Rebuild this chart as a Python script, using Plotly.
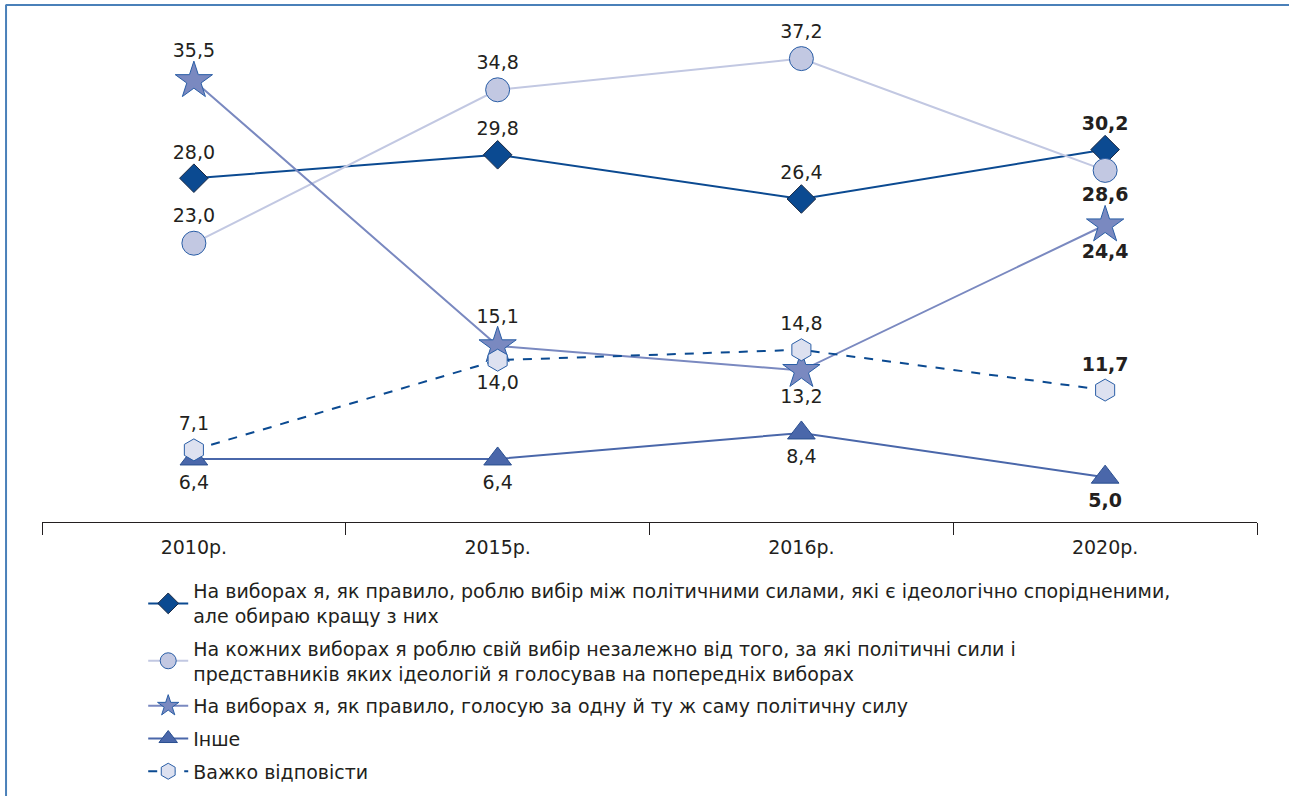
import plotly.graph_objects as go

# categories and values
years = ["2010р.", "2015р.", "2016р.", "2020р."]

ideological = [28.0, 29.8, 26.4, 30.2]
independent = [23.0, 34.8, 37.2, 28.6]
same_party = [35.5, 15.1, 13.2, 24.4]
other = [6.4, 6.4, 8.4, 5.0]
hard_to_say = [7.1, 14.0, 14.8, 11.7]

names = [
    "На виборах я, як правило, роблю вибір між політичними силами, які є ідеологічно спорідненими,<br>але обираю кращу з них",
    "На кожних виборах я роблю свій вибір незалежно від того, за які політичні сили і<br>представників яких ідеологій я голосував на попередніх виборах",
    "На виборах я, як правило, голосую за одну й ту ж саму політичну силу",
    "Інше",
    "Важко відповісти",
]

# label position per point
pos_ideological = ["top center", "top center", "top center", "top center"]
pos_independent = ["top center", "top center", "top center", "bottom center"]
pos_same_party = ["top center", "top center", "bottom center", "bottom center"]
pos_other = ["bottom center", "bottom center", "bottom center", "bottom center"]
pos_hard = ["top center", "bottom center", "top center", "top center"]

FONT = "DejaVu Sans, Arial, sans-serif"


def labels(values):
    out = []
    for i, v in enumerate(values):
        s = "{:.1f}".format(v).replace(".", ",")
        if i == len(values) - 1:
            s = "<b>" + s + "</b>"
        out.append(s)
    return out


def add_series(fig, values, name, positions, line_color, line_dash, symbol, size, fill, border):
    fig.add_trace(
        go.Scatter(
            x=years,
            y=values,
            name=name,
            mode="lines+markers+text",
            text=labels(values),
            textposition=positions,
            textfont=dict(size=19, color="#231f20", family=FONT),
            line=dict(color=line_color, width=2, dash=line_dash),
            marker=dict(symbol=symbol, size=size, color=fill, line=dict(color=border, width=1)),
            legendgroup=name,
            cliponaxis=False,
        )
    )


fig = go.Figure()
add_series(fig, ideological, names[0], pos_ideological, "#0b4a91", "solid", "diamond", 22, "#0b4a91", "#1c2a44")
add_series(fig, independent, names[1], pos_independent, "#c2c8e2", "solid", "circle", 24, "#c2c8e2", "#2a5ea6")
add_series(fig, same_party, names[2], pos_same_party, "#7a89c0", "solid", "star", 28, "#7a89c0", "#2a5ea6")
add_series(fig, other, names[3], pos_other, "#4a67aa", "solid", "triangle-up", 24, "#4a67aa", "#2a4f90")
add_series(fig, hard_to_say, names[4], pos_hard, "#0b4a91", "dash", "hexagon", 22, "#dde1f0", "#2a5ea6")

fig.update_layout(
    width=1289,
    height=796,
    margin=dict(l=42, r=32, t=10, b=274, autoexpand=False),
    paper_bgcolor="white",
    plot_bgcolor="white",
    font=dict(family=FONT, size=18, color="#231f20"),
    showlegend=True,
    legend=dict(
        x=0.0833,
        y=-0.098,
        xanchor="left",
        yanchor="top",
        traceorder="grouped",
        tracegroupgap=5,
        itemwidth=40,
        font=dict(size=19, family=FONT),
    ),
    shapes=[
        dict(type="line", xref="paper", yref="paper", x0=-0.03, x1=1.03, y0=1.0098, y1=1.0098,
             line=dict(color="#4a80b9", width=2)),
        dict(type="line", xref="paper", yref="paper", x0=-0.0296, x1=-0.0296, y0=1.0098, y1=-0.54,
             line=dict(color="#4a80b9", width=2)),
    ],
)

fig.update_xaxes(
    type="category",
    range=[-0.5, 3.5],
    showline=True,
    linecolor="#231f20",
    linewidth=1,
    ticks="outside",
    tickson="boundaries",
    ticklen=12,
    tickcolor="#231f20",
    showgrid=False,
    ticklabelstandoff=8,
    tickfont=dict(size=19, family=FONT),
)
fig.update_yaxes(range=[1.55, 40.94], visible=False)

fig.write_html(
    "out.html",
    config={"displayModeBar": False},
    post_script="document.body.style.margin='0px';",
)
